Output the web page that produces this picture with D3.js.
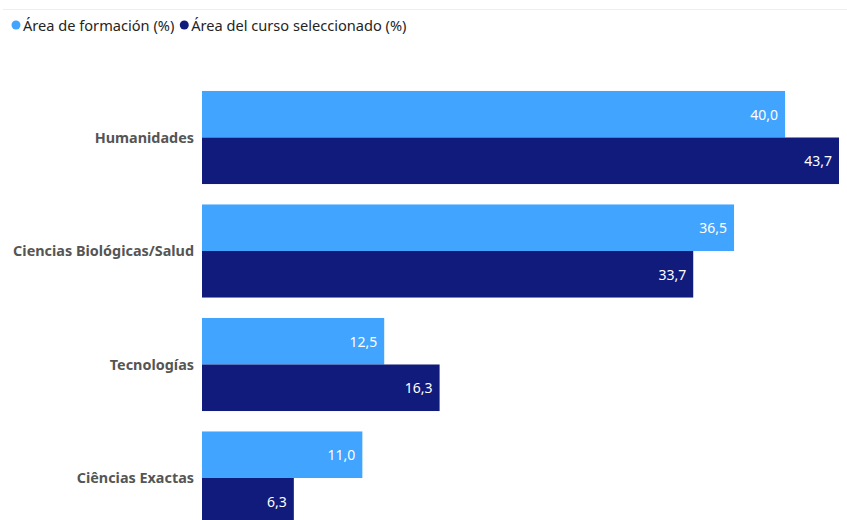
<!DOCTYPE html>
<html>
<head>
<meta charset="utf-8">
<script src="https://cdn.jsdelivr.net/npm/d3@7"></script>
<style>
  body { margin: 0; background: #fff; }
  svg { display: block; font-family: "Segoe UI", "Noto Sans", sans-serif; }
</style>
</head>
<body>
<div id="chart"></div>
<script>
// data
const categories = ["Humanidades", "Ciencias Biológicas/Salud", "Tecnologías", "Ciências Exactas"];
const seriesNames = ["Área de formación (%)", "Área del curso seleccionado (%)"];
const areaFormacion = [40.0, 36.5, 12.5, 11.0];
const areaCurso = [43.7, 33.7, 16.3, 6.3];

const colors = ["#41A4FF", "#111B7C"];

const width = 847, height = 520;
const svg = d3.select("#chart").append("svg")
    .attr("width", width)
    .attr("height", height);

// faint top border
svg.append("line")
    .attr("x1", 3).attr("x2", width)
    .attr("y1", 9.5).attr("y2", 9.5)
    .attr("stroke", "#eeeeee");

// legend
const legend = svg.append("g");
let lx = 16;
seriesNames.forEach((name, i) => {
    legend.append("circle")
        .attr("cx", lx).attr("cy", 25).attr("r", 4.5)
        .attr("fill", colors[i]);
    const t = legend.append("text")
        .attr("x", lx + 7).attr("y", 25)
        .attr("dominant-baseline", "central")
        .attr("font-size", 14.6)
        .attr("fill", "#252423")
        .text(name);
    lx += 7 + t.node().getComputedTextLength() + 10;
});

const x = d3.scaleLinear()
    .domain([0, d3.max(areaFormacion.concat(areaCurso))])
    .range([202, 839]);

const y = d3.scaleBand()
    .domain(categories)
    .range([80.75, 534.75])
    .paddingInner(0.18)
    .paddingOuter(0.09);

const sub = d3.scaleBand()
    .domain([0, 1])
    .range([0, y.bandwidth()]);

const rows = categories.map((c, i) => ({ cat: c, vals: [areaFormacion[i], areaCurso[i]] }));

const groups = svg.selectAll("g.cat")
    .data(rows)
    .enter()
    .append("g")
    .attr("class", "cat")
    .attr("transform", d => `translate(0,${y(d.cat)})`);

groups.selectAll("rect")
    .data(d => d.vals)
    .enter()
    .append("rect")
    .attr("x", x(0))
    .attr("y", (d, i) => sub(i))
    .attr("width", d => x(d) - x(0))
    .attr("height", sub.bandwidth())
    .attr("fill", (d, i) => colors[i]);

groups.selectAll("text.val")
    .data(d => d.vals)
    .enter()
    .append("text")
    .attr("class", "val")
    .attr("x", d => x(d) - 7)
    .attr("y", (d, i) => sub(i) + sub.bandwidth() / 2)
    .attr("text-anchor", "end")
    .attr("dominant-baseline", "central")
    .attr("font-size", 14)
    .attr("fill", "#fff")
    .text(d => d3.format(".1f")(d).replace(".", ","));

// category labels
groups.append("text")
    .attr("x", 194)
    .attr("y", y.bandwidth() / 2)
    .attr("text-anchor", "end")
    .attr("dominant-baseline", "central")
    .attr("font-size", 14.4)
    .attr("font-weight", "bold")
    .attr("fill", "#555555")
    .text(d => d.cat);
</script>
</body>
</html>
